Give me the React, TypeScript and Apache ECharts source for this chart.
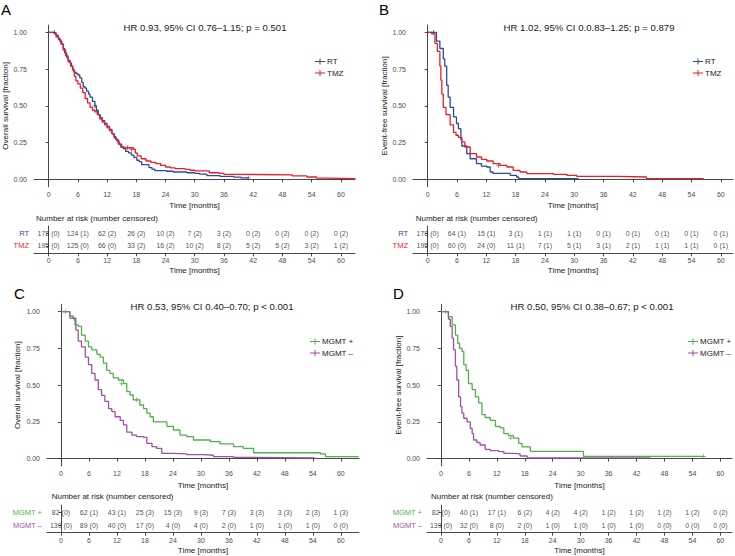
import React, { useEffect, useRef } from 'react';
import * as echarts from 'echarts';

const FONT = 'Liberation Sans, Arial, Helvetica, sans-serif';

// Axis ticks
const months = [0, 6, 12, 18, 24, 30, 36, 42, 48, 54, 60];
const survivalTicks = [0, 0.25, 0.5, 0.75, 1];

// Titles / labels
const titleA = 'HR 0.93, 95% CI 0.76–1.15; p = 0.501';
const titleB = 'HR 1.02, 95% CI 0.0.83–1.25; p = 0.879';
const titleC = 'HR 0.53, 95% CI 0.40–0.70; p < 0.001';
const titleD = 'HR 0.50, 95% CI 0.38–0.67; p < 0.001';
const groupsTreatment = ['RT', 'TMZ'];
const groupsMGMT = ['MGMT +', 'MGMT –'];

// Panel A: overall survival by treatment
const A_RT = [[0,1],[1.0,1],[1.3,0.99],[1.6,0.98],[2.0,0.96],[2.3,0.94],[2.7,0.92],[3.0,0.89],[3.3,0.86],[3.7,0.83],[4.0,0.81],[4.4,0.79],[4.7,0.77],[4.9,0.75],[5.2,0.73],[5.6,0.72],[6.0,0.71],[6.4,0.69],[6.8,0.66],[7.1,0.63],[7.5,0.62],[7.8,0.60],[8.2,0.58],[8.5,0.56],[9.0,0.53],[9.5,0.50],[9.8,0.47],[10.2,0.44],[10.6,0.42],[11.0,0.40],[11.5,0.38],[12.0,0.36],[12.5,0.34],[13.0,0.31],[13.4,0.29],[13.8,0.27],[14.3,0.24],[14.8,0.22],[15.3,0.21],[15.8,0.19],[16.4,0.18],[17.0,0.165],[17.5,0.15],[18.1,0.13],[18.6,0.12],[19.1,0.10],[20.2,0.10],[20.6,0.08],[21.2,0.07],[21.8,0.06],[24.2,0.055],[25.6,0.05],[28.4,0.045],[30.0,0.04],[31.0,0.035],[32.5,0.025],[35.2,0.02],[38.0,0.015],[39.5,0.01],[41.0,0.01]];
const A_TMZ = [[0,1],[1.0,0.995],[1.5,0.97],[2.0,0.95],[2.5,0.92],[3.0,0.88],[3.5,0.84],[4.0,0.80],[4.5,0.77],[5.0,0.74],[5.3,0.70],[5.6,0.67],[6.0,0.65],[6.5,0.62],[7.0,0.59],[7.5,0.55],[8.0,0.52],[8.5,0.49],[9.0,0.47],[9.5,0.46],[10.0,0.44],[10.5,0.41],[11.0,0.39],[11.5,0.37],[12.0,0.35],[12.5,0.33],[13.0,0.31],[13.5,0.28],[14.0,0.26],[14.5,0.24],[15.0,0.22],[15.5,0.215],[17.4,0.205],[17.8,0.18],[18.2,0.16],[19.0,0.14],[20.0,0.125],[21.0,0.115],[22.0,0.107],[23.0,0.095],[24.0,0.084],[25.0,0.078],[26.0,0.073],[28.0,0.068],[29.0,0.062],[30.0,0.057],[33.0,0.045],[35.0,0.04],[36.0,0.034],[40.0,0.03],[50.0,0.023],[53.0,0.016],[55.0,0.009],[57.0,0.005],[63.0,0.005]];
const A_RT_cens = [[1.2,1.0],[9.5,0.50],[41.0,0.01]];
const A_TMZ_cens = [[16.2,0.215],[17.0,0.205]];

// Panel B: event-free survival by treatment
const B_RT = [[0,1],[1.2,1],[1.8,0.94],[2.5,0.89],[3.2,0.82],[3.5,0.77],[3.9,0.64],[4.2,0.56],[4.6,0.49],[5.3,0.425],[5.9,0.38],[6.3,0.345],[6.8,0.27],[7.0,0.227],[8.0,0.175],[8.7,0.14],[10.0,0.107],[11.0,0.09],[12.1,0.084],[12.8,0.05],[13.4,0.04],[16.9,0.027],[18.2,0.016],[18.6,0.005],[30.9,0.005]];
const B_TMZ = [[0,1],[0.8,0.99],[1.5,0.925],[2.0,0.87],[2.5,0.77],[2.7,0.675],[2.9,0.58],[3.2,0.49],[3.75,0.44],[4.6,0.37],[5.3,0.32],[5.8,0.30],[6.3,0.285],[7.0,0.255],[7.6,0.22],[8.7,0.175],[10.0,0.152],[11.0,0.136],[12.1,0.125],[13.4,0.107],[14.8,0.095],[16.2,0.084],[17.5,0.061],[18.9,0.05],[20.3,0.039],[25.7,0.034],[28.5,0.027],[30.5,0.02],[38.7,0.016],[44.8,0.005],[56.5,0.005]];
const B_RT_cens = [[1.2,1.0]];
const B_TMZ_cens = [[14.5,0.095]];

// Panel C: overall survival by MGMT status
const C_POS = [[0,1],[1.2,1],[1.9,0.955],[2.8,0.943],[3.0,0.91],[3.7,0.90],[4.4,0.84],[5.2,0.80],[5.9,0.76],[6.6,0.74],[7.7,0.71],[8.4,0.69],[9.1,0.65],[9.8,0.60],[10.5,0.58],[11.2,0.55],[12.3,0.535],[13.4,0.51],[14.1,0.456],[14.8,0.433],[15.5,0.40],[16.9,0.365],[17.7,0.34],[18.4,0.31],[19.1,0.285],[19.8,0.25],[22.0,0.25],[22.7,0.22],[24.1,0.195],[25.5,0.16],[27.0,0.15],[28.4,0.127],[32.0,0.116],[34.1,0.10],[37.0,0.082],[39.1,0.07],[41.3,0.04],[55.6,0.032],[56.7,0.014],[63.8,0.014]];
const C_NEG = [[0,1],[1.2,1],[1.9,0.97],[2.6,0.955],[3.2,0.875],[3.7,0.80],[4.4,0.76],[5.2,0.69],[5.9,0.64],[6.6,0.58],[7.3,0.535],[8.0,0.47],[8.7,0.43],[9.4,0.39],[10.2,0.34],[10.9,0.32],[11.6,0.285],[12.7,0.26],[13.4,0.23],[14.1,0.18],[15.2,0.16],[16.2,0.15],[17.7,0.145],[18.4,0.104],[19.5,0.082],[20.5,0.07],[21.6,0.036],[24.1,0.032],[27.0,0.027],[30.5,0.023],[32.7,0.014],[37.0,0.009],[39.8,0.005],[54.5,0.005]];
const C_POS_cens = [[1.0,1.0],[13.0,0.51],[16.2,0.40]];
const C_NEG_cens = [];

// Panel D: event-free survival by MGMT status
const D_POS = [[0,1],[0.9,1],[1.6,0.966],[2.4,0.91],[3.1,0.84],[3.6,0.785],[4.0,0.75],[4.5,0.73],[4.9,0.64],[5.4,0.60],[5.9,0.51],[6.7,0.47],[7.4,0.42],[8.1,0.38],[8.8,0.30],[9.5,0.28],[10.6,0.26],[11.7,0.22],[12.7,0.21],[13.5,0.17],[14.5,0.156],[15.6,0.14],[16.7,0.104],[17.4,0.08],[19.2,0.05],[30.6,0.015],[56.4,0.015]];
const D_NEG = [[0,1],[0.9,1],[1.6,0.95],[2.0,0.90],[2.4,0.82],[2.7,0.74],[3.1,0.63],[3.4,0.535],[3.8,0.42],[4.2,0.355],[4.5,0.31],[4.9,0.275],[5.6,0.25],[6.3,0.205],[6.7,0.17],[7.0,0.127],[7.7,0.11],[8.4,0.093],[9.5,0.063],[10.6,0.054],[12.4,0.048],[13.5,0.036],[15.6,0.032],[17.0,0.018],[18.5,0.005],[45.0,0.005]];
const D_POS_cens = [[1.0,1.0],[15.0,0.14],[56.4,0.015]];
const D_NEG_cens = [];

// Numbers at risk (number censored)
const riskA_RT_n = [178, 124, 62, 26, 10, 7, 3, 0, 0, 0, 0];
const riskA_RT_c = [0, 1, 2, 2, 2, 2, 2, 2, 2, 2, 2];
const riskA_TMZ_n = [195, 125, 66, 33, 16, 10, 8, 5, 5, 3, 1];
const riskA_TMZ_c = [0, 0, 0, 2, 2, 2, 2, 2, 2, 2, 2];
const riskB_RT_n = [178, 64, 15, 3, 1, 1, 0, 0, 0, 0, 0];
const riskB_RT_c = [0, 1, 1, 1, 1, 1, 1, 1, 1, 1, 1];
const riskB_TMZ_n = [195, 60, 24, 11, 7, 5, 3, 2, 1, 1, 0];
const riskB_TMZ_c = [0, 0, 0, 1, 1, 1, 1, 1, 1, 1, 1];
const riskC_POS_n = [82, 62, 43, 25, 15, 9, 7, 3, 3, 2, 1];
const riskC_POS_c = [0, 1, 1, 3, 3, 3, 3, 3, 3, 3, 3];
const riskC_NEG_n = [139, 89, 40, 17, 4, 4, 2, 1, 1, 1, 0];
const riskC_NEG_c = [0, 0, 0, 0, 0, 0, 0, 0, 0, 0, 0];
const riskD_POS_n = [82, 40, 17, 6, 4, 4, 1, 1, 1, 1, 0];
const riskD_POS_c = [0, 1, 1, 2, 2, 2, 2, 2, 2, 2, 2];
const riskD_NEG_n = [139, 32, 8, 2, 1, 1, 1, 1, 0, 0, 0];
const riskD_NEG_c = [0, 0, 0, 0, 0, 0, 0, 0, 0, 0, 0];

const COL_RT = '#2c4b9b';
const COL_TMZ = '#ea1d27';
const COL_POS = '#4fb447';
const COL_NEG = '#a24fa8';
const AXIS_COL = '#333333';
const TICK_COL = '#4d4d4d';
const TEXT_COL = '#1a1a1a';

const CENSOR = 'path://M2,0h1v5h-1z M0,2h5v1h-5z';
const LEG_ICON = 'path://M0,2.5h10v1h-10z M4.5,0h1v6h-1z';

type Panel = {
  letter: string; letterX: number; letterY: number;
  title: string; titleX: number; titleY: number;
  yName: string; yNameGap: number;
  left: number; width: number; xMax: number;
  plotTop: number; tableTop: number; tableH: number;
  legendLeft: number; legendTop: number;
  nrLeft: number; nrY: number;
  groups: string[]; colors: string[];
  curves: number[][][]; cens: number[][][];
  riskN: number[][]; riskC: number[][];
};

const panels: Panel[] = [
  { letter: 'A', letterX: 1, letterY: 9, title: titleA, titleX: 205, titleY: 27, yName: 'Overall survival [fraction]', yNameGap: 25,
    left: 34, width: 321, xMax: 62.9, plotTop: 25, tableTop: 226, tableH: 27.3, legendLeft: 310, legendTop: 52.5, nrLeft: 36, nrY: 218,
    groups: groupsTreatment, colors: [COL_RT, COL_TMZ], curves: [A_RT, A_TMZ], cens: [A_RT_cens, A_TMZ_cens],
    riskN: [riskA_RT_n, riskA_TMZ_n], riskC: [riskA_RT_c, riskA_TMZ_c] },
  { letter: 'B', letterX: 379, letterY: 9, title: titleB, titleX: 589, titleY: 27, yName: 'Event-free survival [fraction]', yNameGap: 25,
    left: 413, width: 320, xMax: 62.5, plotTop: 25, tableTop: 226, tableH: 27.3, legendLeft: 688, legendTop: 52.5, nrLeft: 415.7, nrY: 218,
    groups: groupsTreatment, colors: [COL_RT, COL_TMZ], curves: [B_RT, B_TMZ], cens: [B_RT_cens, B_TMZ_cens],
    riskN: [riskB_RT_n, riskB_TMZ_n], riskC: [riskB_RT_c, riskB_TMZ_c] },
  { letter: 'C', letterX: 14, letterY: 293.5, title: titleC, titleX: 212, titleY: 306, yName: 'Overall survival [fraction]', yNameGap: 26,
    left: 47, width: 312, xMax: 63.9, plotTop: 304.3, tableTop: 505.2, tableH: 27.5, legendLeft: 305, legendTop: 332.5, nrLeft: 51.7, nrY: 496,
    groups: groupsMGMT, colors: [COL_POS, COL_NEG], curves: [C_POS, C_NEG], cens: [C_POS_cens, C_NEG_cens],
    riskN: [riskC_POS_n, riskC_NEG_n], riskC: [riskC_POS_c, riskC_NEG_c] },
  { letter: 'D', letterX: 393, letterY: 293.5, title: titleD, titleX: 592, titleY: 306, yName: 'Event-free survival [fraction]', yNameGap: 25,
    left: 427, width: 305, xMax: 62.5, plotTop: 304.3, tableTop: 505.2, tableH: 27.5, legendLeft: 683, legendTop: 332.5, nrLeft: 431, nrY: 496,
    groups: groupsMGMT, colors: [COL_POS, COL_NEG], curves: [D_POS, D_NEG], cens: [D_POS_cens, D_NEG_cens],
    riskN: [riskD_POS_n, riskD_NEG_n], riskC: [riskD_POS_c, riskD_NEG_c] },
];

function buildOption() {
  const grid: any[] = [];
  const xAxis: any[] = [];
  const yAxis: any[] = [];
  const series: any[] = [];
  const legend: any[] = [];
  const graphic: any[] = [];

  const axisLine = { show: true, lineStyle: { color: AXIS_COL, width: 0.9 } };
  const xCommon = (gi: number, p: Panel) => ({
    type: 'value', gridIndex: gi, min: -3, max: p.xMax,
    splitLine: { show: false }, axisLine,
    axisTick: { show: true, length: 3, lineStyle: { color: AXIS_COL, width: 0.9 }, customValues: months },
    axisLabel: { customValues: months, fontSize: 7, color: TICK_COL, fontFamily: FONT, margin: 4 },
    name: 'Time [months]', nameLocation: 'middle', nameMoveOverlap: false,
    nameTextStyle: { fontSize: 8, color: TEXT_COL, fontFamily: FONT },
  });

  panels.forEach((p, k) => {
    const gPlot = k * 2;
    const gTab = k * 2 + 1;
    grid.push({ left: p.left, top: p.plotTop, width: p.width, height: 161.7, containLabel: false });
    grid.push({ left: p.left, top: p.tableTop, width: p.width, height: p.tableH, containLabel: false });

    xAxis.push({ ...xCommon(gPlot, p), nameGap: 15 });
    xAxis.push({ ...xCommon(gTab, p), nameGap: 13.5 });

    yAxis.push({
      type: 'value', gridIndex: gPlot, min: -0.05, max: 1.05,
      splitLine: { show: false }, axisLine,
      axisTick: { show: true, length: 3, lineStyle: { color: AXIS_COL, width: 0.9 }, customValues: survivalTicks },
      axisLabel: { customValues: survivalTicks, formatter: (v: number) => v.toFixed(2), fontSize: 7, color: TICK_COL, fontFamily: FONT, margin: 7 },
      name: p.yName, nameLocation: 'middle', nameGap: p.yNameGap, nameRotate: 90, nameMoveOverlap: false,
      nameTextStyle: { fontSize: 8, color: TEXT_COL, fontFamily: FONT },
    });
    yAxis.push({
      type: 'value', gridIndex: gTab, min: 0.4, max: 2.6, inverse: true,
      splitLine: { show: false }, axisLine,
      axisTick: { show: true, length: 2.5, lineStyle: { color: AXIS_COL, width: 0.9 }, customValues: [1, 2] },
      axisLabel: {
        customValues: [1, 2], margin: 5,
        formatter: (v: number) => `{g${Math.round(v)}|${p.groups[Math.round(v) - 1]}}`,
        rich: {
          g1: { color: p.colors[0], fontSize: 7.5, fontFamily: FONT },
          g2: { color: p.colors[1], fontSize: 7.5, fontFamily: FONT },
        },
      },
    });

    p.curves.forEach((c, i) => {
      series.push({
        type: 'line', name: p.groups[i], xAxisIndex: gPlot, yAxisIndex: gPlot, data: c,
        step: 'end', showSymbol: false, symbol: 'none', silent: true,
        lineStyle: { width: 1.3, color: p.colors[i] }, itemStyle: { color: p.colors[i] }, z: 2 + i,
      });
      series.push({
        type: 'scatter', name: p.groups[i], xAxisIndex: gPlot, yAxisIndex: gPlot, data: p.cens[i],
        symbol: CENSOR, symbolSize: 4.5, silent: true, itemStyle: { color: p.colors[i] }, z: 4,
      });
      series.push({
        type: 'scatter', name: 'risk' + k + i, xAxisIndex: gTab, yAxisIndex: gTab,
        data: months.map((m, j) => [m, i + 1, `${p.riskN[i][j]} (${p.riskC[i][j]})`]),
        color: TEXT_COL,
        symbolSize: 1, silent: true, itemStyle: { color: 'rgba(26,26,26,0)' },
        label: {
          show: true, position: [0.5, 0.5], align: 'center', verticalAlign: 'middle',
          formatter: (q: any) => q.data[2], fontSize: 7, color: TEXT_COL, fontFamily: FONT,
          textBorderWidth: 0,
        },
      });
    });

    legend.push({
      left: p.legendLeft, top: p.legendTop, orient: 'vertical', selectedMode: false,
      itemWidth: 10, itemHeight: 6, itemGap: 3.5,
      data: p.groups.map((g) => ({ name: g, icon: LEG_ICON })),
      textStyle: { fontSize: 8, color: TEXT_COL, fontFamily: FONT, padding: [0, 0, 0, -3] },
    });

    graphic.push({ type: 'text', x: p.letterX, y: p.letterY, style: { text: p.letter, fontSize: 15, fontFamily: FONT, fill: '#000', align: 'left', verticalAlign: 'middle' } });
    graphic.push({ type: 'text', x: p.titleX, y: p.titleY, style: { text: p.title, fontSize: 9.6, fontFamily: FONT, fill: TEXT_COL, align: 'center', verticalAlign: 'middle' } });
    graphic.push({ type: 'text', x: p.nrLeft, y: p.nrY, style: { text: 'Number at risk (number censored)', fontSize: 8, fontFamily: FONT, fill: TEXT_COL, align: 'left', verticalAlign: 'middle' } });
  });

  return {
    animation: false,
    backgroundColor: '#ffffff',
    textStyle: { fontFamily: FONT },
    grid, xAxis, yAxis, series, legend, graphic,
  };
}

export default function App() {
  const ref = useRef<HTMLDivElement>(null);
  useEffect(() => {
    if (!ref.current) return;
    const chart = echarts.init(ref.current, undefined, { renderer: 'svg' });
    chart.setOption(buildOption() as any);
    return () => chart.dispose();
  }, []);
  return <div ref={ref} style={{ position: 'absolute', left: 0, top: 0, width: 735, height: 556, background: '#fff' }} />;
}
